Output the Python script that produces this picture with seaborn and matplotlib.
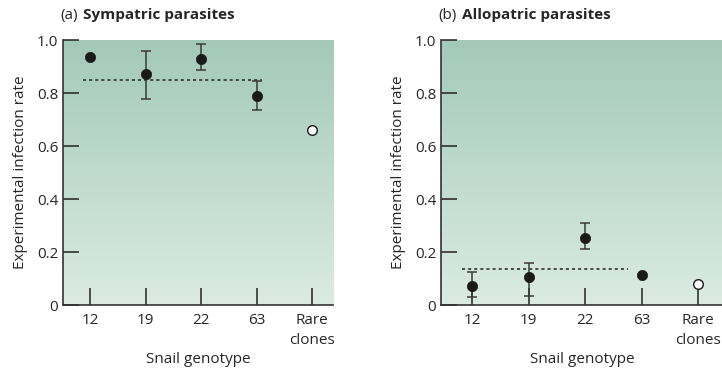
import numpy as np
import pandas as pd
import seaborn as sns
import matplotlib.pyplot as plt
from matplotlib.colors import LinearSegmentedColormap

genotypes = ["12", "19", "22", "63", "Rare\nclones"]

# (a) sympatric parasites
sym_rate = [0.937, 0.873, 0.929, 0.789, 0.662]
sym_low = [np.nan, 0.777, 0.886, 0.735, np.nan]
sym_high = [np.nan, 0.957, 0.985, 0.845, np.nan]
sym_mean = 0.849

# (b) allopatric parasites
allo_rate = [0.072, 0.104, 0.254, 0.112, 0.080]
allo_low = [0.029, 0.033, 0.211, np.nan, np.nan]
allo_high = [0.126, 0.160, 0.308, np.nan, np.nan]
allo_mean = 0.135

sns.set_style("ticks")
plt.rcParams["font.family"] = ["Open Sans", "DejaVu Sans"]
plt.rcParams["font.size"] = 10.5

bg = LinearSegmentedColormap.from_list("bg", ["#dbebe3", "#a3c9bb"])
grad = np.linspace(0, 1, 256).reshape(-1, 1)

fig = plt.figure(figsize=(7.22, 3.69), dpi=100)
ax_a = fig.add_axes([0.0873, 0.1734, 0.374, 0.718])
ax_b = fig.add_axes([0.6108, 0.1734, 0.392, 0.718])


def draw_panel(ax, rate, low, high, mean, mean_span, xlim, letter, title):
    df = pd.DataFrame({"x": range(len(genotypes)), "rate": rate,
                       "low": low, "high": high})
    ax.imshow(grad, extent=[0, 1, 0, 1], transform=ax.transAxes, cmap=bg,
              origin="lower", aspect="auto", zorder=0)
    # error bars
    err = df.dropna()
    ax.errorbar(err["x"], err["rate"],
                yerr=[err["rate"] - err["low"], err["high"] - err["rate"]],
                fmt="none", ecolor="#3a3a3a", elinewidth=1.1, capsize=3.5,
                capthick=1.1, zorder=3)
    ax.hlines(mean, mean_span[0], mean_span[1], colors="#222222",
              linestyles=(0, (2, 2)), linewidth=1.1, zorder=2)
    filled = df.iloc[:4]
    sns.scatterplot(data=filled, x="x", y="rate", ax=ax, color="#1a1a1a",
                    s=55, edgecolor="#1a1a1a", linewidth=0.5, zorder=4,
                    legend=False)
    sns.scatterplot(data=df.iloc[4:], x="x", y="rate", ax=ax, color="white",
                    s=48, edgecolor="#1a1a1a", linewidth=1.0, zorder=4,
                    legend=False)
    ax.set_xlim(*xlim)
    ax.set_ylim(0, 1.0)
    ax.set_xticks(range(len(genotypes)))
    ax.set_xticklabels(genotypes, linespacing=1.45)
    ax.set_yticks([0, 0.2, 0.4, 0.6, 0.8, 1.0])
    ax.set_yticklabels(["0", "0.2", "0.4", "0.6", "0.8", "1.0"])
    ax.tick_params(axis="x", direction="in", length=12, width=1.1,
                   color="#222222", pad=6, labelsize=11)
    ax.tick_params(axis="y", direction="in", length=11.5, width=1.1,
                   color="#222222", pad=3.5, labelsize=11)
    for s in ["top", "right"]:
        ax.spines[s].set_visible(False)
    for s in ["left", "bottom"]:
        ax.spines[s].set_linewidth(1.2)
        ax.spines[s].set_color("#333333")
        ax.spines[s].set_zorder(5)
    ax.set_xlabel("Snail genotype", fontsize=11, labelpad=3)
    ax.set_ylabel("Experimental infection rate", fontsize=11, labelpad=6)
    ax.text(-0.01, 1.08, letter, transform=ax.transAxes, fontsize=11,
            ha="left", va="baseline")
    ax.text(0.075, 1.08, title, transform=ax.transAxes, fontsize=11,
            fontweight="bold", ha="left", va="baseline")


draw_panel(ax_a, sym_rate, sym_low, sym_high, sym_mean, (-0.13, 3.1),
           (-0.49, 4.38), "(a)", "Sympatric parasites")
draw_panel(ax_b, allo_rate, allo_low, allo_high, allo_mean, (-0.17, 2.76),
           (-0.55, 4.46), "(b)", "Allopatric parasites")

fig.savefig("out.png", dpi=100)
